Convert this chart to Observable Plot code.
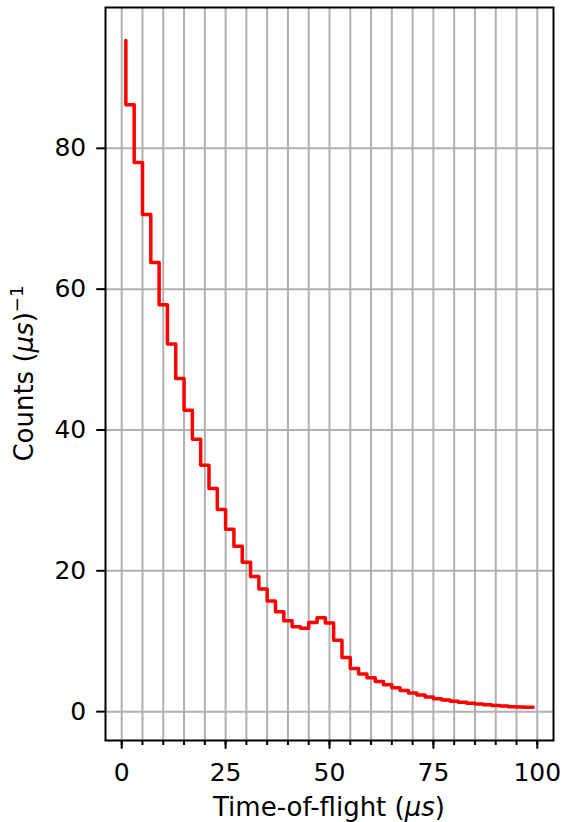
<!DOCTYPE html>
<html><head><meta charset="utf-8">
<script src="https://cdn.jsdelivr.net/npm/d3@7"></script>
<script src="https://cdn.jsdelivr.net/npm/@observablehq/plot@0.6"></script>
<style>body{margin:0;background:#fff}</style>
</head><body><div id="chart"></div>
<script>
const tof = [1,3,5,7,9,11,13,15,17,19,21,23,25,27,29,31,33,35,37,39,41,43,45,47,49,51,53,55,57,59,61,63,65,67,69,71,73,75,77,79,81,83,85,87,89,91,93,95,97,99];
const counts = [95.3,86.2,78.0,70.6,63.8,57.8,52.2,47.3,42.8,38.7,35.0,31.7,28.7,25.9,23.5,21.2,19.2,17.4,15.7,14.2,12.9,12.05,11.85,12.65,13.35,12.6,10.15,7.7,6.12,5.35,4.8,4.28,3.8,3.38,2.99,2.65,2.36,2.08,1.84,1.65,1.47,1.32,1.18,1.08,0.96,0.87,0.79,0.71,0.66,0.62];
const xMajorTicks = [0,25,50,75,100];
const xMinorTicks = [0,5,10,15,20,25,30,35,40,45,50,55,60,65,70,75,80,85,90,95,100];
const yTicks = [0,20,40,60,80];

const data = tof.map((t, i) => ({t, c: counts[i]}));
const FS = 25;
const LFS = 26;
const chart = Plot.plot({
  width: 565, height: 822,
  marginLeft: 105, marginRight: 12, marginTop: 7, marginBottom: 82,
  style: {fontFamily: "DejaVu Sans", fontSize: FS + "px", color: "black", background: "white"},
  x: {domain: [-3.9, 103.9]},
  y: {domain: [-4.1, 100]},
  marks: [
    Plot.gridX(xMinorTicks, {stroke: "#b0b0b0", strokeOpacity: 1, strokeWidth: 2}),
    Plot.gridY(yTicks, {stroke: "#b0b0b0", strokeOpacity: 1, strokeWidth: 2}),
    Plot.line(data, {x: "t", y: "c", curve: "step-before", stroke: "red", strokeWidth: 3.5}),
    Plot.frame({stroke: "black", strokeWidth: 2}),
    Plot.axisX(xMinorTicks, {tickSize: 5, text: null, label: null, strokeWidth: 2}),
    Plot.axisX(xMajorTicks, {tickSize: 8.75, tickPadding: 14, label: null, strokeWidth: 2, fontSize: FS, fill: "black"}),
    Plot.axisY(yTicks, {tickSize: 8.75, tickPadding: 10.5, label: null, strokeWidth: 2, fontSize: FS, fill: "black"})
  ]
});
document.getElementById("chart").appendChild(chart);

const svg = d3.select(chart);
const xl = svg.append("text")
  .attr("x", (105 + 553) / 2).attr("y", 816)
  .attr("text-anchor", "middle")
  .attr("font-family", "DejaVu Sans").attr("font-size", LFS).attr("fill", "black");
xl.append("tspan").text("Time-of-flight (");
xl.append("tspan").attr("font-style", "italic").text("μs");
xl.append("tspan").text(")");

const yl = svg.append("text")
  .attr("transform", `translate(33,${(7 + 740) / 2}) rotate(-90)`)
  .attr("text-anchor", "middle")
  .attr("font-family", "DejaVu Sans").attr("font-size", LFS).attr("fill", "black");
yl.append("tspan").text("Counts (");
yl.append("tspan").attr("font-style", "italic").text("μs");
yl.append("tspan").text(")");
yl.append("tspan").attr("font-size", LFS * 0.7).attr("dy", -10).text("−1");
</script>
</body></html>
